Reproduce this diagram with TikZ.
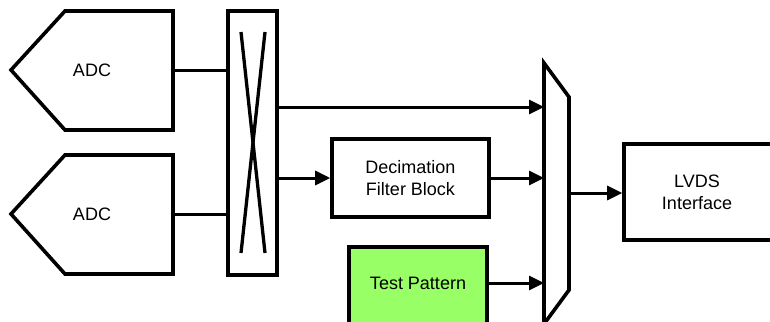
\documentclass[tikz,border=0pt]{standalone}
\usepackage{fontspec}
\setmainfont{Liberation Sans}
\usepackage{tikz}
\usetikzlibrary{arrows.meta, calc}
\usepackage{xcolor}
\definecolor{patterngreen}{RGB}{153, 255, 102}

\begin{document}
\begin{tikzpicture}[x=1pt, y=-1pt, >={Triangle[length=15pt, width=14pt]},
  outline/.style={draw=black, line width=3.6pt, line join=miter},
  wire/.style={black, line width=3pt},
  blockbox/.style={outline, rectangle, inner sep=0pt, align=center},
  txt/.style={font=\fontsize{18}{22}\selectfont, align=center}]

  \useasboundingbox (0,0) rectangle (770,321);
  \clip (0,0) rectangle (770,321);

  % ADC converters
  \draw[outline] (11,70) -- (65,11) -- (173,11) -- (173,130) -- (65,130) -- cycle;
  \node[txt] (adca) at (92,70) {ADC};
  \coordinate (adcaout) at (173,70);
  \draw[outline] (11,214) -- (65,155) -- (173,155) -- (173,274) -- (65,274) -- cycle;
  \node[txt] (adcb) at (92,214) {ADC};
  \coordinate (adcbout) at (173,214);

  % Crossbar
  \node[blockbox, minimum width=49pt, minimum height=264pt] (xbar) at (252.5,143) {};
  \draw[wire, line width=3.3pt] (241,32) -- (265,253);
  \draw[wire, line width=3.3pt] (265,32) -- (241,253);

  % Decimation filter
  \node[blockbox, txt, minimum width=157pt, minimum height=78pt] (dec) at (410.5,178) {Decimation\\Filter Block};

  % Test pattern
  \node[blockbox, fill=patterngreen, minimum width=138pt, minimum height=90pt] (tp) at (418,292) {};
  \node[txt] (tplabel) at (418,283) {Test Pattern};

  % Mux
  \draw[outline, fill=white] (544,63) -- (569,97) -- (569,290) -- (544,324) -- cycle;
  \coordinate (muxa) at (544,107);
  \coordinate (muxb) at (544,178);
  \coordinate (muxc) at (544,283);
  \coordinate (muxout) at (569,193);

  % LVDS interface
  \node[blockbox, minimum width=160pt, minimum height=96pt] (lvds) at (704,192) {};
  \node[txt] (lvdslabel) at (697,192) {LVDS\\Interface};

  % Connections
  \draw[wire] (adcaout) -- (adcaout -| xbar.west);
  \draw[wire] (adcbout) -- (adcbout -| xbar.west);
  \draw[wire, ->] (xbar.east |- muxa) -- (muxa);
  \draw[wire, ->] (xbar.east |- dec.west) -- (dec.west);
  \draw[wire, ->] (dec.east) -- (muxb);
  \draw[wire, ->] (tp.east |- tplabel) -- (muxc);
  \draw[wire, ->] (muxout) -- (muxout -| lvds.west);

\end{tikzpicture}
\end{document}
